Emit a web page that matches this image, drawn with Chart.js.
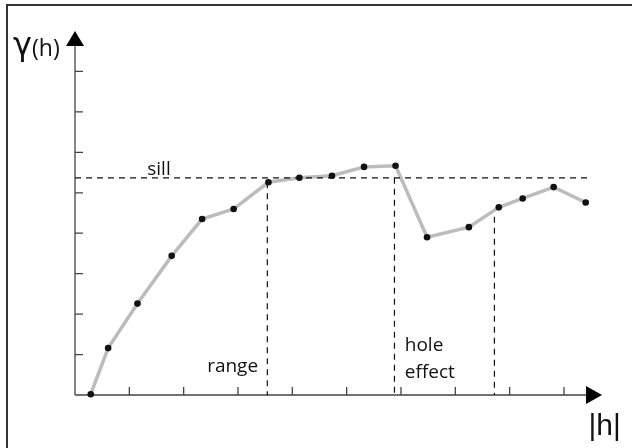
<!DOCTYPE html>
<html>
<head>
<meta charset="utf-8">
<script src="https://cdn.jsdelivr.net/npm/chart.js@4/dist/chart.umd.min.js"></script>
<style>
  html, body { margin: 0; padding: 0; background: #fff; }
  canvas { display: block; }
</style>
</head>
<body>
<canvas id="chart" width="632" height="448"></canvas>
<script>
// lag distance |h| and semivariance gamma(h)
const lagValues = [0.29, 0.61, 1.15, 1.78, 2.34, 2.92, 3.56, 4.13, 4.73, 5.32, 5.90, 6.48, 7.25, 7.80, 8.24, 8.81, 9.40];
const gammaValues = [0.02, 1.16, 2.26, 3.44, 4.35, 4.60, 5.26, 5.37, 5.42, 5.64, 5.67, 3.90, 4.15, 4.64, 4.86, 5.14, 4.76];
const xTicks = [1, 2, 3, 4, 5, 6, 7, 8, 9];
const yTicks = [1, 2, 3, 4, 5, 6, 7, 8];
const sill = 5.37;
const sillEnd = 9.45;
const rangeLag = 3.54;
const holeLag = 5.88;
const holeEndLag = 7.72;
const holeEndTop = 4.41;

const dashed = (pts) => ({
  data: pts,
  showLine: true,
  borderColor: '#111',
  borderWidth: 1.2,
  borderDash: [6, 5],
  pointRadius: 0,
  clip: false
});

const axesPlugin = {
  id: 'axes',
  beforeDatasetsDraw(chart) {
    const { ctx, scales: { x, y } } = chart;
    const x0 = x.getPixelForValue(0);
    const y0 = y.getPixelForValue(0);
    const xEnd = x.getPixelForValue(x.max);
    const yEnd = y.getPixelForValue(y.max);
    ctx.save();
    // frame
    ctx.strokeStyle = '#333';
    ctx.lineWidth = 2;
    ctx.beginPath();
    ctx.moveTo(7, 448);
    ctx.lineTo(7, 5);
    ctx.lineTo(632, 5);
    ctx.stroke();

    ctx.strokeStyle = '#444';
    ctx.lineWidth = 1.3;
    ctx.beginPath();
    ctx.moveTo(x0, y0);
    ctx.lineTo(xEnd - 14, y0);
    ctx.moveTo(x0, y0);
    ctx.lineTo(x0, yEnd + 14);
    xTicks.forEach(v => {
      const px = x.getPixelForValue(v);
      ctx.moveTo(px, y0);
      ctx.lineTo(px, y0 - 8);
    });
    yTicks.forEach(v => {
      const py = y.getPixelForValue(v);
      ctx.moveTo(x0, py);
      ctx.lineTo(x0 + 8, py);
    });
    ctx.stroke();

    // arrow heads
    ctx.fillStyle = '#000';
    ctx.beginPath();
    ctx.moveTo(xEnd, y0);
    ctx.lineTo(xEnd - 16, y0 - 9);
    ctx.lineTo(xEnd - 16, y0 + 9);
    ctx.closePath();
    ctx.fill();
    ctx.beginPath();
    ctx.moveTo(x0, yEnd);
    ctx.lineTo(x0 - 9, yEnd + 15);
    ctx.lineTo(x0 + 9, yEnd + 15);
    ctx.closePath();
    ctx.fill();

    // labels
    ctx.fillStyle = '#111';
    ctx.font = '19px "Open Sans"';
    ctx.textBaseline = 'alphabetic';
    ctx.textAlign = 'left';
    ctx.fillText('sill', x.getPixelForValue(1.33), y.getPixelForValue(sill) - 3);
    ctx.textAlign = 'right';
    ctx.textBaseline = 'middle';
    ctx.fillText('range', x.getPixelForValue(3.37), y.getPixelForValue(0.69));
    ctx.textAlign = 'left';
    ctx.fillText('hole', x.getPixelForValue(6.07), y.getPixelForValue(1.21));
    ctx.fillText('effect', x.getPixelForValue(6.07), y.getPixelForValue(0.56));

    ctx.textBaseline = 'alphabetic';
    ctx.font = '30px "Liberation Sans"';
    ctx.fillText('|h|', x.getPixelForValue(9.6) - 8, y0 + 40);
    ctx.font = '32px "DejaVu Sans"';
    ctx.fillText('γ', x0 - 62, yEnd + 24);
    ctx.font = '23px "Open Sans"';
    ctx.fillText('(h)', x0 - 43, yEnd + 25);
    ctx.restore();
  }
};

new Chart(document.getElementById('chart'), {
  type: 'scatter',
  data: {
    datasets: [
      dashed([{ x: 0, y: sill }, { x: sillEnd, y: sill }]),
      dashed([{ x: rangeLag, y: gammaValues[6] }, { x: rangeLag, y: 0 }]),
      dashed([{ x: holeLag, y: sill }, { x: holeLag, y: 0 }]),
      dashed([{ x: holeEndLag, y: holeEndTop }, { x: holeEndLag, y: 0 }]),
      {
        data: lagValues.map((h, i) => ({ x: h, y: gammaValues[i] })),
        showLine: true,
        borderColor: '#bcbcbc',
        borderWidth: 3.5,
        pointRadius: 3.3,
        pointBackgroundColor: '#111',
        pointBorderWidth: 0,
        clip: false
      }
    ]
  },
  options: {
    responsive: false,
    devicePixelRatio: 1,
    animation: false,
    layout: { padding: { left: 75, top: 31, right: 30, bottom: 53 } },
    plugins: { legend: { display: false }, tooltip: { enabled: false } },
    scales: {
      x: { type: 'linear', min: 0, max: 9.7, display: false },
      y: { type: 'linear', min: 0, max: 9, display: false }
    }
  },
  plugins: [axesPlugin]
});
</script>
</body>
</html>
